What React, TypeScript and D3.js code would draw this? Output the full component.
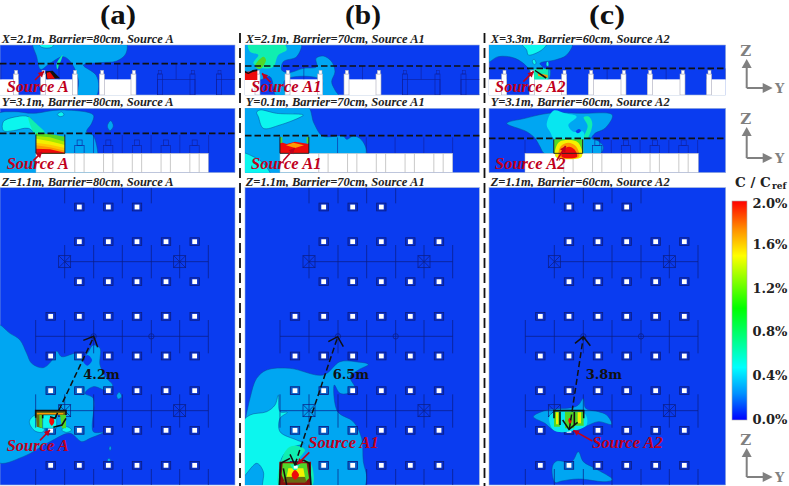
import * as d3 from "d3"

type Pt = [number, number]
type Shape = { c: string; p: Pt[]; sharp?: boolean }

const BLUE = "#0a3cf0"
const SKY = "#00a6f2"
const AQUA = "#08e6f0"
const CYAN = "#0cf6ee"
const MINT = "#10eeb0"
const GREEN = "#50d828"
const YEL = "#f4f000"
const ORG = "#ff9a00"
const RED = "#ee0a0a"
const OLIVE = "#6a6a10"
const DRED = "#c0001c"

const columnTitles = ["(a)", "(b)", "(c)"]
const columnCenters = [118, 363, 607]
const cropOrigins = [0, 240, 485]
const panelLeft = [0, 15, 12]
const panelRight = [705, 718, 722]
const gridShift = [0, 13, 14]

const captionsX = ["X=2.1m, Barrier=80cm, Source A", "X=2.1m, Barrier=70cm, Source A1", "X=3.3m, Barrier=60cm, Source A2"]
const captionsY = ["Y=3.1m, Barrier=80cm, Source A", "Y=0.1m, Barrier=70cm, Source A1", "Y=3.1m, Barrier=60cm, Source A2"]
const captionsZ = ["Z=1.1m, Barrier=80cm, Source A", "Z=1.1m, Barrier=70cm, Source A1", "Z=1.1m, Barrier=60cm, Source A2"]
const sourceNames = ["Source A", "Source A1", "Source A2"]
const distances = ["4.2m", "6.5m", "3.8m"]
const distanceX = [250, 278, 302]

const xSection: Shape[][] = [
  [
    { c: SKY, p: [[100, 120], [375, 120], [378, 160], [350, 183], [300, 188], [250, 195], [288, 225], [296, 260], [285, 295], [235, 295], [235, 240], [215, 190], [190, 170], [150, 190], [122, 208], [110, 170]] },
    { c: CYAN, p: [[118, 133], [160, 133], [155, 142], [125, 142]] },
    { c: MINT, p: [[170, 190], [188, 165], [180, 190], [172, 208]] },
  ],
  [
    { c: SKY, p: [[5, 125], [183, 125], [170, 170], [130, 185], [125, 210], [145, 218], [190, 205], [230, 200], [228, 175], [250, 168], [275, 185], [285, 215], [275, 245], [285, 270], [300, 295], [245, 295], [245, 240], [135, 240], [135, 295], [110, 295], [90, 230], [60, 240], [5, 240]] },
    { c: MINT, p: [[25, 130], [130, 130], [140, 150], [115, 165], [100, 200], [70, 205], [40, 190], [55, 165], [30, 155]] },
    { c: GREEN, p: [[45, 198], [70, 170], [78, 180], [60, 207]] },
  ],
  [
    { c: SKY, p: [[2, 125], [262, 125], [245, 165], [210, 180], [165, 190], [180, 205], [195, 208], [190, 240], [145, 240], [130, 205], [90, 175], [40, 170], [2, 190]] },
    { c: CYAN, p: [[110, 130], [185, 130], [170, 150], [130, 165], [125, 150]] },
    { c: CYAN, p: [[142, 182], [148, 178], [153, 190], [147, 194]] },
    { c: CYAN, p: [[184, 188], [189, 184], [191, 198], [185, 198]] },
  ],
]

const ySection: Shape[][] = [
  [
    { c: SKY, p: [[-10, 345], [40, 335], [100, 340], [180, 330], [280, 345], [275, 370], [260, 395], [281, 408], [281, 530], [-10, 530]] },
    { c: SKY, p: [[322, 378], [332, 362], [340, 378], [330, 392]] },
    { c: CYAN, p: [[10, 392], [10, 365], [50, 350], [85, 350], [105, 375], [112, 405], [85, 385], [40, 392]] },
    { c: CYAN, p: [[172, 343], [185, 336], [192, 345], [180, 350]] },
    { c: MINT, p: [[85, 350], [110, 372], [135, 400], [108, 405]] },
  ],
  [
    { c: SKY, p: [[5, 315], [200, 315], [222, 370], [248, 408], [310, 408], [320, 418], [340, 408], [365, 420], [378, 470], [125, 530], [5, 530]] },
    { c: CYAN, p: [[50, 337], [60, 330], [110, 340], [190, 345], [180, 352], [120, 375], [70, 385], [55, 350]] },
    { c: CYAN, p: [[5, 460], [40, 470], [70, 490], [92, 530], [5, 530]] },
  ],
  [
    { c: SKY, p: [[65, 370], [120, 355], [190, 340], [290, 340], [382, 345], [360, 385], [330, 400], [320, 415], [335, 420], [355, 440], [345, 462], [180, 462], [165, 440], [150, 415], [125, 395]] },
    { c: AQUA, p: [[185, 375], [205, 332], [240, 340], [275, 350], [250, 375], [265, 395], [295, 395], [295, 418], [210, 418], [195, 395]] },
    { c: MINT, p: [[296, 352], [312, 350], [322, 372], [305, 418], [296, 415], [308, 378]] },
    { c: BLUE, p: [[272, 394], [282, 387], [288, 392], [278, 400]] },
  ],
]

const zPlan: Shape[][] = [
  [
    { c: SKY, p: [[-10, 418], [30, 445], [60, 465], [80, 505], [95, 535], [130, 548], [160, 520], [170, 498], [185, 515], [230, 505], [245, 520], [262, 505], [280, 480], [300, 490], [300, 540], [320, 580], [338, 600], [330, 620], [280, 605], [255, 625], [280, 640], [280, 740], [310, 742], [270, 760], [245, 770], [210, 745], [150, 770], [70, 815], [-10, 830]] },
    { c: BLUE, p: [[248, 525], [262, 510], [276, 525], [262, 542]] },
    { c: SKY, p: [[350, 632], [358, 622], [365, 635], [355, 642]] },
    { c: SKY, p: [[327, 790], [331, 783], [334, 790], [330, 797]] },
    { c: SKY, p: [[322, 825], [327, 820], [332, 826], [326, 832]] },
    { c: CYAN, p: [[88, 710], [105, 690], [130, 690], [130, 740], [105, 738]] },
    { c: CYAN, p: [[185, 735], [200, 725], [215, 735], [200, 742]] },
  ],
  [
    { c: SKY, p: [[5, 780], [30, 640], [50, 580], [80, 555], [150, 550], [250, 570], [300, 530], [345, 530], [385, 538], [355, 555], [330, 575], [345, 610], [325, 625], [300, 625], [283, 600], [293, 680], [340, 710], [365, 760], [370, 830], [380, 880], [365, 915], [5, 915]] },
    { c: CYAN, p: [[2, 720], [30, 690], [80, 680], [105, 660], [115, 630], [120, 680], [142, 682], [120, 700], [120, 740], [170, 765], [192, 775], [150, 790], [125, 820], [120, 860], [120, 915], [70, 915], [70, 860], [50, 835], [2, 880]] },
    { c: MINT, p: [[130, 810], [150, 785], [180, 785], [195, 795], [180, 820], [210, 830], [215, 905], [118, 905]] },
  ],
  [
    { c: SKY, p: [[145, 695], [170, 680], [205, 672], [260, 668], [280, 660], [295, 640], [302, 670], [340, 680], [365, 690], [380, 718], [340, 710], [300, 725], [250, 742], [205, 735], [180, 715]] },
    { c: SKY, p: [[202, 845], [215, 828], [260, 830], [280, 800], [295, 830], [330, 850], [383, 884], [360, 890], [280, 882], [230, 888], [210, 892]] },
  ],
]

// heat patches at the three sources, drawn in order, inside the barrier box
const heatX: Shape[][] = [
  [
    { c: "#111", sharp: true, p: [[137, 214], [158, 212], [180, 235], [140, 238]] },
    { c: RED, sharp: true, p: [[140, 218], [150, 216], [165, 236], [142, 236]] },
  ],
  [
    { c: RED, sharp: true, p: [[15, 216], [52, 212], [52, 240], [15, 240]] },
    { c: "#111", sharp: true, p: [[15, 212], [25, 218], [38, 210], [52, 208], [52, 213], [38, 216], [25, 222], [15, 218]] },
  ],
  [
    { c: MINT, sharp: true, p: [[147, 207], [190, 207], [190, 238], [147, 238]] },
    { c: ORG, sharp: true, p: [[158, 220], [188, 225], [188, 234], [160, 228]] },
    { c: "#111", sharp: true, p: [[150, 209], [185, 232], [182, 236], [150, 214]] },
  ],
]

const heatY: Shape[][] = [
  [
    { c: GREEN, sharp: true, p: [[108, 400], [150, 402], [195, 410], [195, 460], [108, 460]] },
    { c: "#a8e800", sharp: true, p: [[108, 408], [150, 412], [195, 425], [195, 460], [108, 460]] },
    { c: YEL, sharp: true, p: [[108, 416], [150, 424], [195, 435], [195, 460], [108, 460]] },
    { c: "#ffc800", sharp: true, p: [[108, 428], [150, 434], [195, 444], [195, 460], [108, 460]] },
    { c: ORG, sharp: true, p: [[108, 436], [150, 442], [195, 452], [195, 460], [108, 460]] },
    { c: RED, sharp: true, p: [[108, 446], [150, 448], [195, 458], [195, 460], [108, 460]] },
  ],
  [
    { c: RED, sharp: true, p: [[120, 425], [140, 432], [165, 425], [207, 432], [207, 460], [120, 460]] },
    { c: ORG, sharp: true, p: [[138, 436], [160, 428], [192, 436], [165, 444]] },
    { c: GREEN, sharp: true, p: [[120, 412], [127, 412], [127, 428], [120, 430]] },
    { c: GREEN, sharp: true, p: [[200, 412], [207, 412], [207, 430], [200, 430]] },
  ],
  [
    { c: GREEN, sharp: true, p: [[207, 418], [295, 418], [295, 460], [207, 460]] },
    { c: YEL, p: [[212, 470], [220, 428], [250, 420], [280, 428], [290, 470]] },
    { c: ORG, p: [[222, 470], [228, 438], [250, 428], [272, 438], [282, 470]] },
    { c: RED, p: [[230, 470], [236, 448], [252, 440], [268, 448], [276, 470]] },
  ],
]

const heatZ: Shape[][] = [
  [
    { c: OLIVE, sharp: true, p: [[107, 677], [198, 677], [198, 690], [128, 690], [128, 730], [110, 725]] },
    { c: GREEN, sharp: true, p: [[118, 690], [128, 690], [128, 730], [118, 725]] },
    { c: ORG, sharp: true, p: [[110, 684], [190, 684], [190, 688], [110, 688]] },
    { c: CYAN, sharp: true, p: [[128, 690], [170, 690], [170, 730], [128, 730]] },
    { c: GREEN, sharp: true, p: [[180, 690], [198, 690], [198, 730], [186, 730]] },
    { c: RED, p: [[150, 700], [157, 695], [163, 710], [155, 722], [148, 712]] },
  ],
  [
    { c: "#8a1010", sharp: true, p: [[118, 830], [213, 830], [213, 900], [118, 900]] },
    { c: GREEN, sharp: true, p: [[128, 835], [200, 835], [207, 880], [195, 892], [135, 892], [125, 870]] },
    { c: YEL, sharp: true, p: [[145, 850], [190, 850], [195, 875], [140, 875]] },
    { c: MINT, sharp: true, p: [[150, 838], [180, 838], [170, 855], [160, 855]] },
    { c: OLIVE, sharp: true, p: [[135, 876], [195, 876], [200, 892], [130, 892]] },
    { c: RED, p: [[155, 870], [165, 855], [177, 870], [165, 884]] },
  ],
  [
    { c: AQUA, p: [[195, 690], [298, 685], [305, 720], [250, 740], [205, 735]] },
    { c: GREEN, sharp: true, p: [[207, 680], [225, 680], [225, 725], [207, 725]] },
    { c: YEL, sharp: true, p: [[213, 682], [220, 682], [220, 718], [213, 718]] },
    { c: GREEN, sharp: true, p: [[270, 680], [296, 680], [296, 722], [270, 722]] },
    { c: YEL, sharp: true, p: [[278, 682], [288, 682], [288, 715], [278, 715]] },
    { c: GREEN, sharp: true, p: [[240, 680], [268, 680], [268, 730], [240, 730]] },
    { c: RED, p: [[250, 705], [255, 698], [260, 708], [255, 718]] },
  ],
]

// thick black outlines of the barrier in plan view
const barrierZ: Pt[][][] = [
  [[[107, 698], [107, 677], [198, 677], [198, 690]], [[128, 700], [128, 690]], [[198, 700], [186, 720], [160, 727]]],
  [[[118, 900], [122, 835], [150, 820]], [[213, 900], [208, 835], [190, 825]], [[140, 900], [130, 850]]],
  [[[207, 700], [207, 677], [296, 677], [296, 700]], [[225, 720], [225, 680]], [[268, 720], [268, 680]]],
]

// dashed distance arrows [start, tip], with chevron ends
const distanceLines: Pt[][] = [
  [[165, 700], [281, 456]],
  [[165, 838], [293, 456]],
  [[253, 733], [295, 456]],
]
const tipChevrons: Pt[][] = [
  [[250, 466], [281, 454], [293, 487]],
  [[265, 470], [293, 455], [310, 485]],
  [[270, 475], [295, 455], [316, 482]],
]
const footChevrons: Pt[][] = [
  [[150, 695], [165, 700], [170, 690]],
  [[150, 808], [165, 840], [190, 825]],
  [[233, 705], [252, 733], [278, 712]],
]

const dashX = [191, 198, 205]
const dashY = [400, 407, 415]

// red pointers [from, to] per column
const pointerX: Pt[][] = [[[105, 240], [132, 214]], [[92, 247], [66, 220]], [[115, 245], [146, 214]]]
const pointerY: Pt[][] = [[[100, 482], [126, 456]], [[130, 482], [164, 444]], [[215, 482], [242, 438]]]
const pointerZ: Pt[][] = [[[120, 766], [150, 735]], [[208, 802], [172, 838]], [[322, 768], [265, 736]]]
const sourceLabelZ: Pt[] = [[20, 797], [205, 790], [322, 790]]

// X section units: [left edge of first post, right edge of last post, filled]
const unitsX: [number, number, boolean][][] = [
  [[-50, 55, true], [122, 232, true], [298, 408, true], [472, 585, false], [650, 760, false]],
  [[-40, 60, true], [135, 248, true], [312, 423, true], [487, 600, false], [663, 780, false]],
  [[-40, 65, true], [133, 245, true], [310, 423, true], [487, 600, true], [665, 780, true]],
]

const gridCols = [152, 238, 325, 411, 498, 584]
const gridRows = [66, 170, 290, 394, 513, 617, 736, 841]
const gridRowCols = [[1, 2, 3], [1, 2, 3, 4, 5], [1, 2, 3, 4, 5], [0, 1, 2, 3, 4, 5], [0, 1, 2, 3, 4, 5], [0, 1, 2, 3, 4, 5], [0, 1, 2, 3, 4, 5], [0, 1, 2, 3, 4, 5]]
const beamCols = [107, 194, 281, 367, 454, 539, 625]
const beamSpans = [[8, 55, 1, 4], [180, 280, 1, 6], [405, 505, 0, 6], [628, 728, 0, 6], [852, 900, 0, 6]]
const beamRows = [[230, 1], [454, 0], [677, 0]]
const crossBoxes: Pt[] = [[194, 230], [539, 230], [194, 677], [539, 677]]
const smallRings: Pt[] = [[281, 454], [454, 454]]

const legendTicks = [0, 0.4, 0.8, 1.2, 1.6, 2.0]
const legendColors: [number, string][] = [[0, "#ff0000"], [0.13, "#ff9000"], [0.25, "#ffff00"], [0.49, "#00ff00"], [0.76, "#00ffff"], [0.88, "#0090ff"], [1, "#0000ff"]]
const axisGlyphs: Pt[] = [[746.7, 88], [746.7, 158], [746.7, 477]]
const axisHeights = [25, 27, 25]

const serif = "'Liberation Serif', 'DejaVu Serif', serif"
const heavy = "'DejaVu Serif', serif"
const smooth = d3.line().curve(d3.curveCatmullRomClosed.alpha(0.5))
const straight = d3.line()
const y3 = d3.scaleLinear().domain([0, 570]).range([0, 190])
const yPlan = d3.scaleLinear().domain([0, 903]).range([185, 486])
const len = (u: number) => u / 3

function Caption({ x, y, wide, t }: { x: number; y: number; wide: number; t: string }) {
  return (
    <text x={x} y={y} fontFamily={serif} fontStyle="italic" fontWeight="bold" fontSize={12} textLength={wide} lengthAdjust="spacingAndGlyphs" fill="#222">{t}</text>
  )
}

function SourceLabel({ x, y, t }: { x: number; y: number; t: string }) {
  return (
    <text x={x} y={y} fontFamily={serif} fontStyle="italic" fontWeight="bold" fontSize={16.5} fill={DRED}>{t}</text>
  )
}

function Column({ i }: { i: number }) {
  const x = d3.scaleLinear().domain([0, 750]).range([cropOrigins[i], cropOrigins[i] + 250])
  const gx = (u: number) => x(u + gridShift[i])
  const L = panelLeft[i]
  const R = panelRight[i]
  const mapTop = (p: Pt[]) => p.map(([a, b]) => [x(a), y3(b)] as Pt)
  const mapPlan = (p: Pt[]) => p.map(([a, b]) => [x(a), yPlan(b)] as Pt)
  const mapGrid = (p: Pt[]) => p.map(([a, b]) => [gx(a), yPlan(b)] as Pt)
  const paint = (s: Shape, k: number, map: (p: Pt[]) => Pt[]) => (
    <path
      key={k}
      d={(s.sharp ? straight : smooth)(map(s.p)) + (s.sharp ? "Z" : "")}
      fill={s.c}
      stroke={s.c === SKY || s.c === CYAN ? "#0a4a9a" : "none"}
      strokeWidth={0.5}
    />
  )
  const secRows: [number, number, string][] = [[135, 285, `cx${i}`], [325, 518, `cy${i}`]]
  const base = i === 0 ? 108 : 120
  const end = i === 0 ? 625 : i === 1 ? 638 : 640
  const yBeams = [0, 1, 2, 3, 4, 5, 6].map((k) => base + k * 86.3)
  const yPosts = [1, 2, 3, 4, 5].map((k) => base + k * 86.3 + 30)
  const capX = x(i === 0 ? 5 : 17)
  const capW = i === 0 ? 172 : 179
  const srcX = x(i === 0 ? 20 : i === 1 ? 33 : 30)
  return (
    <g>
      <defs>
        {secRows.map(([a, b, id]) => (
          <clipPath id={id} key={id}>
            <rect x={x(L)} y={y3(a)} width={len(R - L)} height={y3(b) - y3(a)} />
          </clipPath>
        ))}
        <clipPath id={`cz${i}`}>
          <rect x={x(L)} y={yPlan(8)} width={len(R - L)} height={yPlan(900) - yPlan(8)} />
        </clipPath>
      </defs>
      <text x={columnCenters[i]} y={24} textAnchor="middle" fontFamily={serif} fontWeight="bold" fontSize={27} textLength={36} lengthAdjust="spacingAndGlyphs" fill="#111">{columnTitles[i]}</text>

      {/* X section */}
      <Caption x={capX} y={43} wide={capW} t={captionsX[i]} />
      <rect x={x(L)} y={y3(135)} width={len(R - L)} height={y3(285) - y3(135)} fill={BLUE} stroke="#9fb4d8" strokeWidth={0.6} />
      <g clipPath={`url(#cx${i})`}>
        {xSection[i].map((s, k) => paint(s, k, mapTop))}
        {unitsX[i].map(([a, b, filled], k) => {
          const posts = k === 0 ? [b - 15] : [a, b - 15]
          return (
            <g key={k}>
              <rect x={x(a)} y={y3(238)} width={len(b - a)} height={y3(285) - y3(238)} fill={filled ? "#fff" : "none"} stroke="#10209a" strokeWidth={filled ? 0 : 0.6} />
              <line x1={x((a + b) / 2)} x2={x((a + b) / 2)} y1={y3(dashX[i])} y2={y3(238)} stroke="#10209a" strokeWidth={0.6} />
              {posts.map((q) => (
                <g key={q}>
                  <rect x={x(q)} y={y3(222)} width={len(15)} height={y3(63)} fill={filled ? "#fff" : "none"} stroke={filled ? "#aab" : "#10209a"} strokeWidth={0.6} />
                  <rect x={x(q + 4)} y={y3(211)} width={len(9)} height={y3(11)} fill={filled ? "#fff" : "none"} stroke={filled ? "#aab" : "#10209a"} strokeWidth={0.5} />
                </g>
              ))}
            </g>
          )
        })}
        {heatX[i].map((s, k) => paint(s, k, mapTop))}
      </g>
      <line x1={x(L)} x2={x(R)} y1={y3(dashX[i])} y2={y3(dashX[i])} stroke="#111" strokeWidth={1.6} strokeDasharray="6.5 3" />
      <Pointer p={mapTop(pointerX[i])} />
      <SourceLabel x={srcX} y={y3(275)} t={sourceNames[i]} />

      {/* Y section */}
      <Caption x={capX} y={106} wide={capW} t={captionsY[i]} />
      <rect x={x(L)} y={y3(325)} width={len(R - L)} height={y3(518) - y3(325)} fill={BLUE} stroke="#9fb4d8" strokeWidth={0.6} />
      <g clipPath={`url(#cy${i})`}>
        {ySection[i].map((s, k) => paint(s, k, mapTop))}
        {yBeams.map((b) => (
          <line key={b} x1={x(b)} x2={x(b)} y1={y3(dashY[i] + 5)} y2={y3(460)} stroke="#10209a" strokeWidth={0.6} />
        ))}
        {yPosts.map((b) =>
          i === 1 ? null : (
            <g key={b} fill="none" stroke="#10209a" strokeWidth={0.6}>
              <rect x={x(b)} y={y3(437)} width={len(28)} height={y3(23)} />
              <rect x={x(b + 7)} y={y3(420)} width={len(15)} height={y3(17)} />
            </g>
          ),
        )}
        <rect x={x(base)} y={y3(460)} width={len(end - base)} height={y3(518) - y3(460)} fill="#fff" stroke="#bbb" strokeWidth={0.5} />
        {yPosts.flatMap((b) => [b, b + 28]).map((b) => (
          <line key={b} x1={x(b)} x2={x(b)} y1={y3(460)} y2={y3(518)} stroke="#bbb" strokeWidth={0.8} />
        ))}
        {heatY[i].map((s, k) => paint(s, k, mapTop))}
        <path
          d={straight(mapTop([[yBeams[i === 2 ? 1 : 0], dashY[i] + 3], [yBeams[i === 2 ? 1 : 0], 460], [yBeams[i === 2 ? 2 : 1], 460], [yBeams[i === 2 ? 2 : 1], dashY[i] + 3]])) as string}
          fill="none"
          stroke="#222"
          strokeWidth={0.9}
        />
      </g>
      <line x1={x(L)} x2={x(R)} y1={y3(dashY[i])} y2={y3(dashY[i])} stroke="#111" strokeWidth={1.6} strokeDasharray="6.5 3" />
      <Pointer p={mapTop(pointerY[i])} />
      <SourceLabel x={srcX} y={y3(508)} t={sourceNames[i]} />

      {/* Z plan */}
      <Caption x={capX} y={186} wide={capW} t={captionsZ[i]} />
      <rect x={x(L)} y={yPlan(8)} width={len(R - L)} height={yPlan(900) - yPlan(8)} fill={BLUE} stroke="#9fb4d8" strokeWidth={0.6} />
      <g clipPath={`url(#cz${i})`}>
        {zPlan[i].map((s, k) => paint(s, k, mapPlan))}
        {beamSpans.flatMap(([a, b, from, to]) =>
          beamCols.slice(from, to + 1).map((c) => (
            <line key={`${a}-${c}`} x1={gx(c)} x2={gx(c)} y1={yPlan(a)} y2={yPlan(b)} stroke="#0c1c80" strokeWidth={0.7} />
          )),
        )}
        {beamRows.map(([r, from]) => (
          <line key={r} x1={gx(beamCols[from])} x2={gx(625)} y1={yPlan(r)} y2={yPlan(r)} stroke="#0c1c80" strokeWidth={0.7} />
        ))}
        {mapGrid(crossBoxes).map(([a, b], k) => (
          <g key={k} fill="none" stroke="#0c1c80" strokeWidth={0.7}>
            <rect x={a - 6} y={b - 6} width={12} height={12} />
            <path d={`M${a - 6} ${b - 6}L${a + 6} ${b + 6}M${a + 6} ${b - 6}L${a - 6} ${b + 6}`} />
          </g>
        ))}
        {mapGrid(smallRings).map(([a, b], k) => (
          <rect key={k} x={a - 2.5} y={b - 2.5} width={5} height={5} rx={2} fill="none" stroke="#0c1c80" strokeWidth={0.7} />
        ))}
        {gridRows.flatMap((r, ri) =>
          gridRowCols[ri].map((ci) => (
            <g key={`${r}-${ci}`}>
              <rect x={gx(gridCols[ci]) - 4.7} y={yPlan(r) - 3.9} width={9.4} height={7.8} fill="#0824a8" fillOpacity={0.55} stroke="#0c1c80" strokeWidth={0.8} />
              <rect x={gx(gridCols[ci]) - 2.4} y={yPlan(r) - 2.4} width={4.8} height={4.8} fill="#fff" />
            </g>
          )),
        )}
        {heatZ[i].map((s, k) => paint(s, k, mapPlan))}
        {barrierZ[i].map((b, k) => (
          <path key={k} d={straight(mapPlan(b)) as string} fill="none" stroke="#111" strokeWidth={1.6} />
        ))}
        {i === 1 && <rect x={x(161)} y={yPlan(842)} width={4} height={3} fill="#fff" />}
      </g>
      <path d={straight(mapPlan(distanceLines[i])) as string} stroke="#111" strokeWidth={1.5} strokeDasharray="6 3" fill="none" />
      <path d={straight(mapPlan(tipChevrons[i])) as string} stroke="#111" strokeWidth={1.5} fill="none" />
      <path d={straight(mapPlan(footChevrons[i])) as string} stroke="#111" strokeWidth={1.5} fill="none" />
      <text x={x(distanceX[i])} y={yPlan(582)} fontFamily={heavy} fontWeight="bold" fontSize={13} fill="#111">{distances[i]}</text>
      <Pointer p={mapPlan(pointerZ[i])} />
      <SourceLabel x={x(sourceLabelZ[i][0])} y={yPlan(sourceLabelZ[i][1])} t={sourceNames[i]} />
    </g>
  )
}

function Pointer({ p }: { p: Pt[] }) {
  const [a, b] = p
  const t = Math.atan2(b[1] - a[1], b[0] - a[0])
  const head = [t - 0.5, t + 0.5].map((d) => [b[0] - 6.5 * Math.cos(d), b[1] - 6.5 * Math.sin(d)])
  return (
    <g>
      <line x1={a[0]} y1={a[1]} x2={b[0]} y2={b[1]} stroke={DRED} strokeWidth={1.6} />
      <path d={`M${b[0]} ${b[1]}L${head[0][0]} ${head[0][1]}L${head[1][0]} ${head[1][1]}Z`} fill={DRED} />
    </g>
  )
}

function AxisGlyph({ o, h }: { o: Pt; h: number }) {
  const [ox, oy] = o
  return (
    <g>
      <path d={`M${ox} ${oy}V${oy - h}M${ox} ${oy}H${ox + 18}`} stroke="#808080" strokeWidth={2} fill="none" />
      <path d={`M${ox} ${oy - h - 4}l-5 9h10Z`} fill="#808080" />
      <path d={`M${ox + 26} ${oy}l-10 -5v10Z`} fill="#808080" />
      <text x={ox - 1} y={oy - h - 7} textAnchor="middle" fontFamily={heavy} fontWeight="bold" fontSize={15} fill="#808080">Z</text>
      <text x={ox + 33} y={oy + 5} textAnchor="middle" fontFamily={heavy} fontWeight="bold" fontSize={13} fill="#808080">Y</text>
    </g>
  )
}

export default function App() {
  const legendY = d3.scaleLinear().domain([0, 2]).range([420, 201])
  const separators = [240, 484.5]
  return (
    <svg width={789} height={486} style={{ position: "fixed", left: 0, top: 0, background: "#fff" }}>
      <defs>
        <linearGradient id="legend" x1="0" y1="0" x2="0" y2="1">
          {legendColors.map(([o, c]) => (
            <stop key={o} offset={o} stopColor={c} />
          ))}
        </linearGradient>
      </defs>
      {[0, 1, 2].map((i) => (
        <Column key={i} i={i} />
      ))}
      {separators.map((s) => (
        <line key={s} x1={s} x2={s} y1={33} y2={486} stroke="#111" strokeWidth={1.8} strokeDasharray="10 5" />
      ))}
      <rect x={732} y={legendY(2)} width={15} height={legendY(0) - legendY(2)} fill="url(#legend)" stroke="#aaa" strokeWidth={0.6} />
      {legendTicks.map((t) => (
        <text key={t} x={752.5} y={legendY(t) + 4 + (t === 2 ? 3 : 0)} fontFamily={heavy} fontWeight="bold" fontSize={13} fill="#222">{`${t.toFixed(1)}%`}</text>
      ))}
      <text x={735} y={187} fontFamily={heavy} fontWeight="bold" fontSize={13.5} fill="#222">C / C</text>
      <text x={772} y={189} fontFamily={heavy} fontWeight="bold" fontSize={9} fill="#222">ref</text>
      {axisGlyphs.map((o, k) => (
        <AxisGlyph key={k} o={o} h={axisHeights[k]} />
      ))}
    </svg>
  )
}
